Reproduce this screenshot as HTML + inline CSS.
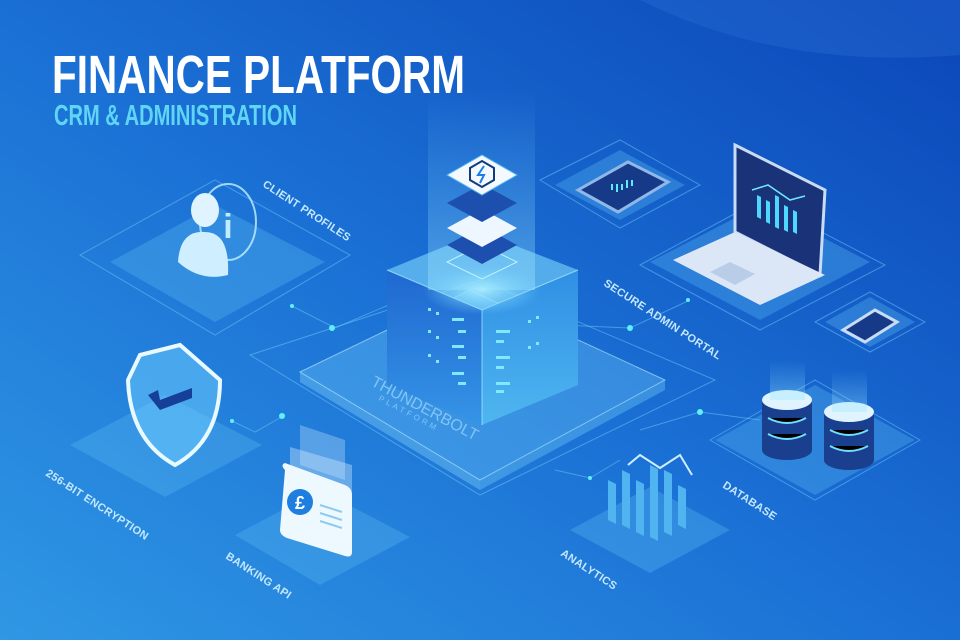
<!DOCTYPE html>
<html><head><meta charset="utf-8"><style>
html,body{margin:0;padding:0;width:960px;height:640px;overflow:hidden}
svg{display:block}
text{font-family:"Liberation Sans",sans-serif}
</style></head><body>
<svg width="960" height="640" viewBox="0 0 960 640" xmlns="http://www.w3.org/2000/svg">
<defs>
<linearGradient id="bg" x1="0" y1="1" x2="1" y2="0">
<stop offset="0" stop-color="#2f97e4"/><stop offset="0.5" stop-color="#1a6fd4"/><stop offset="1" stop-color="#0b46b8"/>
</linearGradient>
<linearGradient id="beam" x1="0" y1="0" x2="0" y2="1">
<stop offset="0" stop-color="#7fd8ff" stop-opacity="0"/><stop offset="1" stop-color="#9fe8ff" stop-opacity="0.4"/>
</linearGradient>
<linearGradient id="lf" x1="0" y1="0" x2="0" y2="1"><stop offset="0" stop-color="#1f68d0"/><stop offset="1" stop-color="#3594e6"/></linearGradient>
<linearGradient id="rf" x1="0" y1="0" x2="0" y2="1"><stop offset="0" stop-color="#2f8fe4"/><stop offset="1" stop-color="#4fb6f0"/></linearGradient>
<radialGradient id="glow"><stop offset="0" stop-color="#aef0ff" stop-opacity="0.9"/><stop offset="1" stop-color="#6fd0ff" stop-opacity="0"/></radialGradient>
</defs>
<rect width="960" height="640" fill="url(#bg)"/>
<path d="M640 0 Q780 70 960 55 L960 0Z" fill="#2a6fd8" opacity="0.35"/>

<g stroke="#7fd3ff" stroke-opacity="0.45" fill="none" stroke-width="1">
<path d="M80 255 L215 180 L350 255 L215 335 Z" />
<path d="M250 355 L480 280 L715 380 L480 495 Z"/>
<path d="M290 305 L335 328 L400 300"/>
<path d="M230 420 L255 432 L285 415"/>
<path d="M560 325 L630 328 L690 300"/>
<path d="M640 430 L700 412 L760 420"/>
<path d="M555 470 L590 478 L620 460"/>
<path d="M540 180 L620 140 L700 185 L620 228 Z"/>
<path d="M640 265 L760 200 L885 265 L760 330 Z"/>
<path d="M815 322 L870 292 L925 322 L870 352 Z"/>
<path d="M710 440 L815 380 L920 440 L815 500 Z"/>
</g>
<g fill="#5ff0ff">
<circle cx="332" cy="328" r="3"/><circle cx="292" cy="306" r="2"/><circle cx="282" cy="416" r="3"/><circle cx="232" cy="421" r="2"/>
<circle cx="630" cy="328" r="3"/><circle cx="688" cy="300" r="2"/><circle cx="700" cy="412" r="3"/><circle cx="590" cy="478" r="2"/>
</g>

<g fill="#5ab8f0" fill-opacity="0.35">
<path d="M110 262 L215 205 L325 262 L215 322Z"/>
<path d="M70 445 L165 395 L262 445 L165 497Z"/>
<path d="M235 535 L320 490 L410 537 L320 585Z"/>
<path d="M570 530 L650 487 L730 530 L650 573Z"/>
<path d="M715 440 L815 385 L915 440 L815 495Z"/>
<path d="M650 262 L760 205 L870 262 L760 320Z"/>
<path d="M555 185 L620 150 L685 185 L620 220Z"/>
<path d="M825 322 L870 297 L915 322 L870 347Z"/>
</g>
<path d="M300 372 L470 290 L665 380 L480 480Z" fill="#7fd6ff" fill-opacity="0.3" stroke="#bff0ff" stroke-opacity="0.6"/>
<path d="M300 372 L480 480 L480 490 L300 382Z" fill="#8fe0ff" fill-opacity="0.35"/>
<path d="M480 480 L665 380 L665 390 L480 490Z" fill="#6fc8f5" fill-opacity="0.4"/>

<path d="M387 270 L482 310 L482 425 L387 385Z" fill="url(#lf)"/>
<path d="M482 310 L578 270 L578 385 L482 425Z" fill="url(#rf)"/>
<path d="M387 270 L480 232 L578 270 L482 310Z" fill="#7fd8fb" fill-opacity="0.6"/>
<path d="M387 270 L482 310 L578 270 M482 310 L482 425" stroke="#aef0ff" stroke-opacity="0.7" fill="none"/>
<g fill="#7feaff">
<rect x="428" y="308" width="3" height="3"/><rect x="436" y="312" width="3" height="3"/><rect x="452" y="318" width="12" height="3"/><rect x="458" y="330" width="8" height="3"/>
<rect x="428" y="330" width="3" height="3"/><rect x="436" y="336" width="3" height="3"/><rect x="452" y="345" width="12" height="3"/><rect x="458" y="356" width="8" height="3"/>
<rect x="428" y="354" width="3" height="3"/><rect x="436" y="360" width="3" height="3"/><rect x="452" y="372" width="12" height="3"/><rect x="458" y="382" width="8" height="3"/>
<rect x="496" y="330" width="14" height="3"/><rect x="496" y="340" width="8" height="3"/><rect x="528" y="320" width="3" height="3"/><rect x="536" y="316" width="3" height="3"/>
<rect x="496" y="356" width="14" height="3"/><rect x="496" y="366" width="8" height="3"/><rect x="528" y="346" width="3" height="3"/><rect x="536" y="342" width="3" height="3"/>
<rect x="496" y="382" width="14" height="3"/><rect x="496" y="390" width="8" height="3"/>
</g>
<rect x="428" y="90" width="107" height="200" fill="url(#beam)"/>
<ellipse cx="482" cy="290" rx="60" ry="25" fill="url(#glow)"/>
<g>
<path d="M447 262 L482 245 L517 262 L482 279Z" fill="none" stroke="#bff4ff"/>
<path d="M447 245 L482 226 L517 245 L482 264Z" fill="#1d4fae"/>
<path d="M447 228 L482 209 L517 228 L482 247Z" fill="#eef6ff"/>
<path d="M447 203 L482 184 L517 203 L482 222Z" fill="#1d4fae"/>
<path d="M447 175 L482 155 L517 175 L482 195Z" fill="#f4f9ff" stroke="#4fb6f0"/>
<path d="M470 168 L482 161 L494 168 L494 180 L482 187 L470 180Z" fill="none" stroke="#123a80" stroke-width="2"/>
<path d="M484 166 L478 175 L484 175 L480 183" stroke="#1a7ee8" stroke-width="2" fill="none"/>
</g>

<g>
<ellipse cx="228" cy="222" rx="28" ry="38" fill="none" stroke="#bff0ff" stroke-width="2" opacity="0.8"/>
<text x="228" y="238" font-size="34" font-family="Liberation Serif" font-weight="bold" fill="#bfeeff" text-anchor="middle">i</text>
<ellipse cx="205" cy="210" rx="14" ry="17" fill="#dff4ff"/>
<path d="M178 262 Q180 230 205 232 Q230 232 228 275 Q200 282 178 262Z" fill="#cfeeff"/>
</g>
<g>
<path d="M140 355 L180 345 L220 380 Q220 440 175 465 Q130 440 128 380Z" fill="#6fd0ff" fill-opacity="0.5" stroke="#e8faff" stroke-width="4"/>
<path d="M148 395 L160 410 L192 398 L192 388 L160 400 L158 390Z" fill="#163f9a"/>
</g>
<g>
<path d="M300 425 L345 440 L345 480 L300 465Z" fill="#bfe2ff" fill-opacity="0.35"/>
<path d="M290 447 L352 465 L352 510 L290 492Z" fill="#cfeaff" fill-opacity="0.4"/>
<path d="M285 470 Q280 465 285 463 L345 485 Q352 488 352 495 L352 552 Q352 558 345 556 L287 538 Q280 535 280 530Z" fill="#eef8ff"/>
<circle cx="300" cy="502" r="13" fill="#1f7fe0"/>
<text x="300" y="509" font-size="18" font-weight="bold" fill="#fff" text-anchor="middle">£</text>
<g stroke="#8fcaf0" stroke-width="2"><path d="M320 505 L342 512"/><path d="M320 513 L342 520"/><path d="M320 521 L342 528"/></g>
</g>
<g fill="#4fb4ef">
<path d="M608 480 l8 4 v40 l-8 -4z"/><path d="M622 470 l8 4 v55 l-8 -4z"/><path d="M636 480 l8 4 v52 l-8 -4z"/><path d="M650 465 l8 4 v72 l-8 -4z"/><path d="M664 470 l8 4 v62 l-8 -4z"/><path d="M678 485 l8 4 v40 l-8 -4z"/>
</g>
<path d="M628 465 L640 455 L660 468 L680 455 L692 475" stroke="#cfeeff" stroke-width="2" fill="none"/>
<g>
<rect x="762" y="400" width="50" height="50" fill="#1a3f8e"/><ellipse cx="787" cy="450" rx="25" ry="10" fill="#1a3f8e"/><ellipse cx="787" cy="400" rx="25" ry="10" fill="#dff4ff"/>
<rect x="824" y="412" width="50" height="48" fill="#1a3f8e"/><ellipse cx="849" cy="460" rx="25" ry="10" fill="#1a3f8e"/><ellipse cx="849" cy="412" rx="25" ry="10" fill="#dff4ff"/>
<g stroke="#6fe0ff" stroke-width="2"><path d="M768 418 Q787 428 806 418"/><path d="M768 434 Q787 444 806 434"/><path d="M830 430 Q849 440 868 430"/><path d="M830 446 Q849 456 868 446"/></g>
<rect x="770" y="360" width="35" height="40" fill="url(#beam)"/><rect x="832" y="370" width="35" height="42" fill="url(#beam)"/>
</g>
<path d="M578 190 L628 162 L668 182 L618 212Z" fill="#173a88" stroke="#8fb8e8" stroke-width="3"/>
<g stroke="#5fe8ff" stroke-width="2"><path d="M612 190 v-6"/><path d="M617 192 v-8"/><path d="M622 190 v-6"/><path d="M627 188 v-8"/><path d="M632 186 v-6"/></g>
<path d="M735 145 L825 190 L820 275 L735 232Z" fill="#1a3278" stroke="#c8dcf5" stroke-width="3"/>
<path d="M673 260 L735 232 L825 275 L760 305Z" fill="#dbe7f7"/>
<path d="M710 272 L730 262 L755 274 L735 285Z" fill="#b9cde9"/>
<g fill="#4fd8ff"><path d="M757 195 l4 2 v22 l-4 -2z"/><path d="M766 200 l4 2 v22 l-4 -2z"/><path d="M775 195 l4 2 v32 l-4 -2z"/><path d="M784 205 l4 2 v25 l-4 -2z"/><path d="M793 210 l4 2 v22 l-4 -2z"/></g>
<path d="M752 190 L768 185 L790 200 L805 196" stroke="#6fe8ff" stroke-width="1.5" fill="none"/>
<path d="M843 330 L875 310 L897 322 L865 342Z" fill="#173a88" stroke="#c8dcf5" stroke-width="3"/>

<g fill="#c4e8ff" font-size="11" font-weight="bold" letter-spacing="0.3">
<text transform="translate(262,186) rotate(33)">CLIENT PROFILES</text>
<text transform="translate(603,285) rotate(33)">SECURE ADMIN PORTAL</text>
<text transform="translate(45,475) rotate(33)">256-BIT ENCRYPTION</text>
<text transform="translate(225,558) rotate(33)">BANKING API</text>
<text transform="translate(560,555) rotate(33)">ANALYTICS</text>
<text transform="translate(722,487) rotate(33)">DATABASE</text>
</g>
<text transform="translate(370,385) rotate(28)" font-size="16" fill="#9fd8ff" fill-opacity="0.7">THUNDERBOLT</text>
<text transform="translate(378,400) rotate(28)" font-size="8" fill="#9fd8ff" fill-opacity="0.7" letter-spacing="3">PLATFORM</text>

<text x="52" y="93" font-family="Liberation Sans Narrow, Liberation Sans" font-weight="bold" font-size="54" fill="#ffffff" textLength="413" lengthAdjust="spacingAndGlyphs">FINANCE PLATFORM</text>
<text x="54" y="125" font-family="Liberation Sans Narrow, Liberation Sans" font-weight="bold" font-size="29" fill="#5fd6f5" textLength="243" lengthAdjust="spacingAndGlyphs">CRM &amp; ADMINISTRATION</text>
</svg>
</body></html>
